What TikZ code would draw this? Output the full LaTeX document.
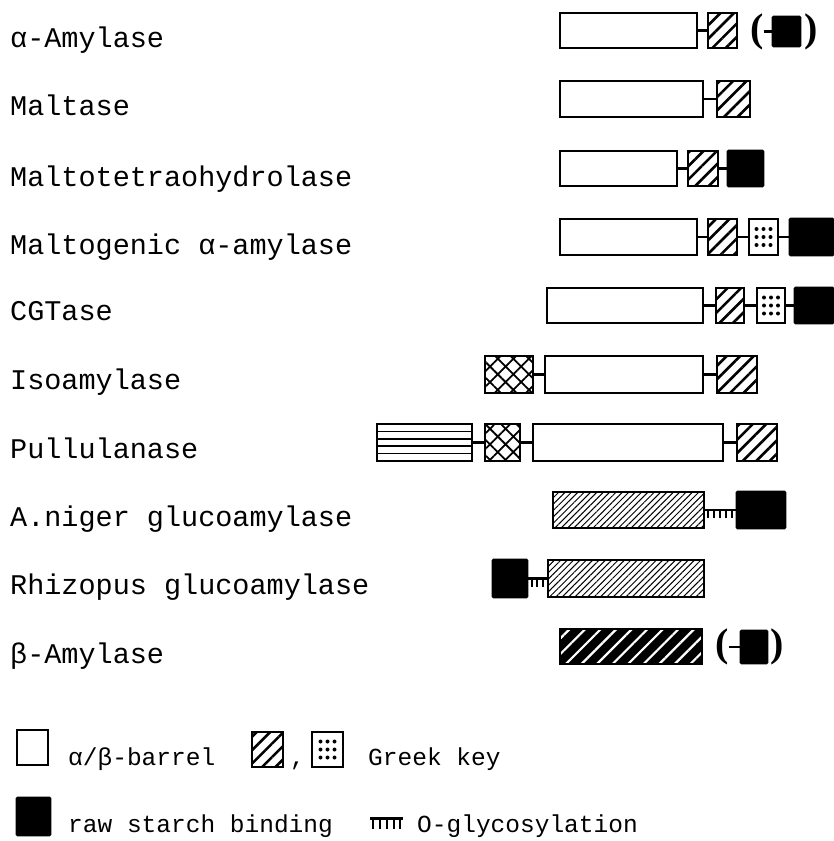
\documentclass[tikz,border=0pt]{standalone}
\usepackage{fontspec}
\setmainfont{Liberation Mono}
\newfontfamily\parfont{Liberation Serif}
\usetikzlibrary{patterns.meta}
\tikzset{
 dom/.style={draw=black, line width=2.8pt, inner sep=0pt, outer sep=0pt, anchor=north west},
 barrel/.style={dom, fill=white},
 gk/.style={dom, pattern={Lines[angle=45,distance=9.5pt,line width=2.6pt]}},
 gkdot/.style={dom, fill=white, path picture={
   \foreach \i in {-1,0,1}\foreach \j in {-1,0,1}
     {\fill[black] ([xshift=\i*7pt,yshift=\j*8pt]path picture bounding box.center) circle (2pt);}}},
 rsb/.style={dom, fill=black, rounded corners=0.8pt},
 dense/.style={dom, pattern={Lines[angle=45,distance=4.5pt,line width=1pt]}},
 boldhatch/.style={dom, preaction={fill=black}, pattern={Lines[angle=45,distance=11pt,line width=2.2pt]}, pattern color=white},
 cross/.style={dom, pattern={Hatch[angle=45,distance=11pt,line width=1.8pt]}},
 hlines/.style={dom, fill=white, path picture={
   \foreach \k in {1,2,3,4}
     {\draw[line width=1.5pt] ([yshift=-\k*7.4pt]path picture bounding box.north west) -- ([yshift=-\k*7.4pt]path picture bounding box.north east);}}},
 conn/.style={line width=2.5pt},
 tick/.style={line width=2pt},
 lab/.style={anchor=base west, inner sep=0pt, font=\fontsize{28.5}{30}\selectfont},
 leg/.style={anchor=base west, inner sep=0pt, font=\fontsize{24.5}{26}\selectfont},
 par/.style={inner sep=0pt, outer sep=0pt, font=\parfont\bfseries\fontsize{40}{42}\selectfont},
}
\newcommand\dm[6]{\node[#1, minimum width=#5pt, minimum height=#6pt] (#2) at (#3,#4) {};}
\begin{document}
\begin{tikzpicture}[x=1pt,y=-1pt]
\useasboundingbox (0,0) rectangle (834,841);
% labels
\node[lab] (t1) at (10,47) {α-Amylase};
\node[lab] (t2) at (10,115) {Maltase};
\node[lab] (t3) at (10,186) {Maltotetraohydrolase};
\node[lab] (t4) at (10,254) {Maltogenic α-amylase};
\node[lab] (t5) at (10,320) {CGTase};
\node[lab] (t6) at (10,389) {Isoamylase};
\node[lab] (t7) at (10,458) {Pullulanase};
\node[lab] (t8) at (10,526) {A.niger glucoamylase};
\node[lab] (t9) at (10,594) {Rhizopus glucoamylase};
\node[lab] (t10) at (10,663) {β-Amylase};
% row 1
\dm{barrel}{a1}{560}{13}{137}{35}
\dm{gk}{a2}{708}{13}{29}{35}
\node[par] (a3) at (757,32) {(};
\dm{rsb}{a4}{773}{17}{27}{29}
\node[par] (a5) at (811,32) {)};
\draw[conn] (a1.east) -- (a2.west);
\draw[conn] (a3.east |- a4.west) -- (a4.west);
% row 2
\dm{barrel}{b1}{560}{81}{143}{36}
\dm{gk}{b2}{717}{81}{33}{36}
\draw[conn] (b1.east) -- (b2.west);
% row 3
\dm{barrel}{c1}{560}{151}{117}{35}
\dm{gk}{c2}{688}{151}{30}{35}
\dm{rsb}{c3}{728}{151}{35}{35}
\draw[conn] (c1.east) -- (c2.west);
\draw[conn] (c2.east) -- (c3.west);
% row 4
\dm{barrel}{d1}{560}{219}{137}{36}
\dm{gk}{d2}{708}{219}{29}{36}
\dm{gkdot}{d3}{749}{219}{29}{36}
\dm{rsb}{d4}{790}{219}{43}{36}
\draw[conn] (d1.east) -- (d2.west);
\draw[conn] (d2.east) -- (d3.west);
\draw[conn] (d3.east) -- (d4.west);
% row 5
\dm{barrel}{e1}{547}{288}{156}{35}
\dm{gk}{e2}{716}{288}{28}{35}
\dm{gkdot}{e3}{757}{288}{28}{35}
\dm{rsb}{e4}{795}{288}{38}{35}
\draw[conn] (e1.east) -- (e2.west);
\draw[conn] (e2.east) -- (e3.west);
\draw[conn] (e3.east) -- (e4.west);
% row 6
\dm{cross}{f1}{485}{356}{48}{37}
\dm{barrel}{f2}{545}{356}{158}{37}
\dm{gk}{f3}{717}{356}{40}{37}
\draw[conn] (f1.east) -- (f2.west);
\draw[conn] (f2.east) -- (f3.west);
% row 7
\dm{hlines}{g1}{377}{424}{95}{37}
\dm{cross}{g2}{485}{424}{35}{37}
\dm{barrel}{g3}{533}{424}{190}{37}
\dm{gk}{g4}{737}{424}{40}{37}
\draw[conn] (g1.east) -- (g2.west);
\draw[conn] (g2.east) -- (g3.west);
\draw[conn] (g3.east) -- (g4.west);
% row 8
\dm{dense}{h1}{553}{492}{151}{36}
\dm{rsb}{h2}{737}{492}{48}{36}
\draw[conn] (h1.east) -- (h2.west);
\foreach \dx in {4,10,16,22,28} \draw[tick] ([xshift=\dx pt]h1.east) -- ++(0,8);
% row 9
\dm{rsb}{i1}{493}{560}{34}{37}
\dm{dense}{i2}{548}{560}{156}{37}
\draw[conn] (i1.east) -- (i2.west);
\foreach \dx in {5,10,16} \draw[tick] ([xshift=\dx pt]i1.east) -- ++(0,8);
% row 10
\dm{boldhatch}{j1}{560}{629}{142}{35}
\node[par] (j2) at (722,647) {(};
\dm{rsb}{j3}{741}{631}{26}{32}
\node[par] (j4) at (777,647) {)};
\draw[conn] (j2.east |- j3.west) -- (j3.west);
% legend
\dm{barrel}{L1}{17}{730}{31}{35}
\node[leg] (l1) at (68,765) {α/β-barrel};
\dm{gk}{L2}{252}{732}{31}{35}
\node[leg] (lc) at (290,765) {,};
\dm{gkdot}{L3}{312}{732}{31}{35}
\node[leg] (l2) at (368,765) {Greek key};
\dm{rsb}{L4}{17}{798}{33}{37}
\node[leg] (l3) at (68,832) {raw starch binding};
\coordinate (gs) at (370,818);
\draw[line width=3pt] (gs) -- ++(33,0);
\foreach \dx in {3,10,17,24,30} \draw[line width=2.6pt] ([xshift=\dx pt]gs) -- ++(0,11);
\node[leg] (l4) at (417,832) {O-glycosylation};
\end{tikzpicture}
\end{document}
